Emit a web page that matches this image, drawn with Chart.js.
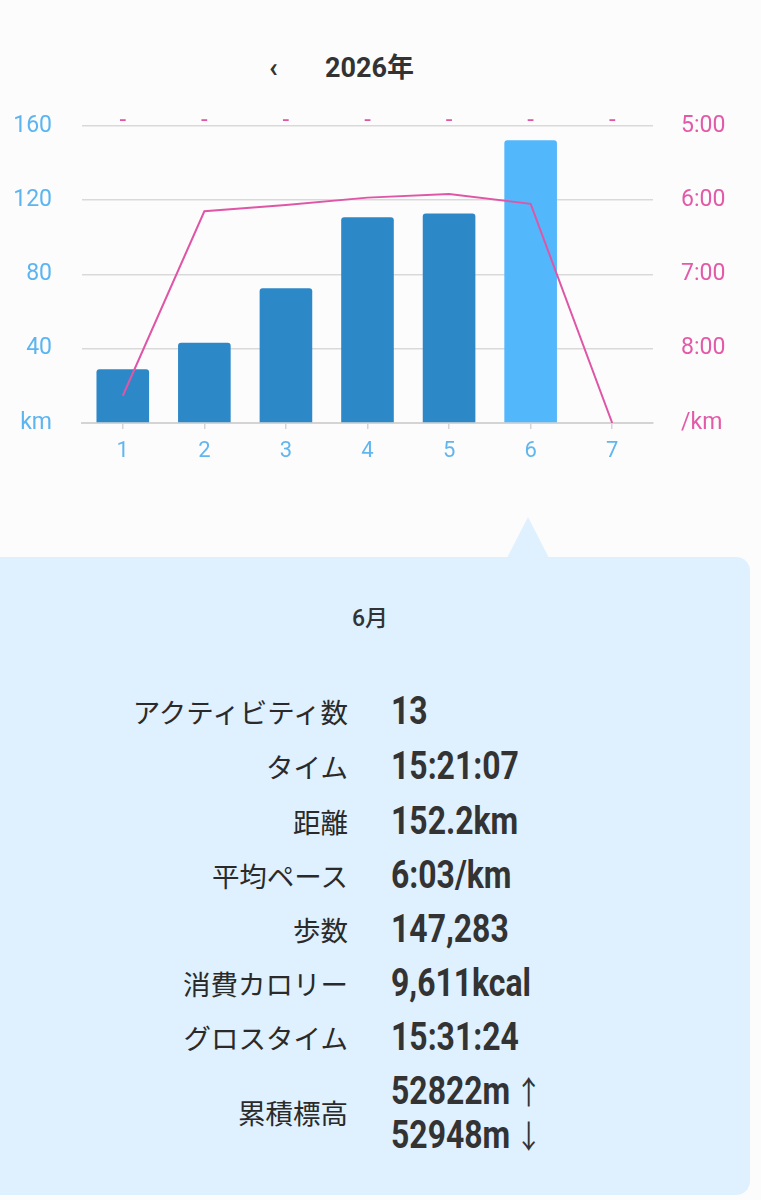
<!DOCTYPE html>
<html>
<head>
<meta charset="utf-8">
<script src="https://cdn.jsdelivr.net/npm/chart.js@4/dist/chart.umd.min.js"></script>
<style>
  html, body { margin: 0; padding: 0; }
  body { width: 761px; height: 1200px; background: #fcfcfc; position: relative; overflow: hidden;
         font-family: Roboto, "Noto Sans CJK JP", sans-serif; color: #333; }
  .head { position: absolute; top: 48px; left: 0; width: 761px; height: 40px; }
  .chev { position: absolute; left: 269px; top: 0; font-size: 28px; line-height: 40px; font-weight: 700; }
  .year { position: absolute; left: 325px; top: 0; font-size: 27px; line-height: 40px; font-weight: 700;
          font-family: Roboto, "Noto Sans CJK JP", sans-serif; }
  #wrap { position: absolute; left: 0; top: 82px; width: 761px; height: 386px; }
  .panel { position: absolute; left: -20px; top: 557px; width: 770px; height: 638px; background: #dff0fe;
           border-radius: 14px; }
  .tip { position: absolute; left: 507px; top: 517px; width: 0; height: 0;
         border-left: 21px solid transparent; border-right: 21px solid transparent; border-bottom: 41px solid #dff0fe; }
  .month { position: absolute; left: 0; width: 740px; top: 599px; text-align: center; font-size: 23px;
           font-weight: 500; font-family: Roboto, "Noto Sans CJK JP", sans-serif; }
  .lbl { position: absolute; right: 413px; font-family: "Noto Sans CJK JP", sans-serif; font-size: 27.5px;
         font-weight: 400; line-height: 36px; white-space: nowrap; color: #2a2a2a; }
  .val { position: absolute; left: 391px; font-family: Roboto, sans-serif; font-weight: 700; font-size: 38px;
         line-height: 44px; white-space: nowrap; color: #333; transform: scaleX(0.84); transform-origin: left center; }
  .val span { font-family: "Noto Sans CJK JP", sans-serif; font-weight: 400; font-size: 32px; margin-left: 6px; }
</style>
</head>
<body>
<div class="head"><span class="chev">‹</span><span class="year">2026年</span></div>
<div id="wrap"><canvas id="myChart"></canvas></div>

<div class="tip"></div>
<div class="panel"></div>
<div class="month">6月</div>
<div id="rows"></div>

<script>
// months shown on the x axis
var months = ['1', '2', '3', '4', '5', '6', '7'];
// distance per month (km)
var distance = [29.0, 43.2, 72.6, 110.7, 112.8, 152.2, 0];
// average pace per month in seconds per km (month 7 has none -> drawn at axis bottom)
var pace = [518, 369, 364, 358, 355, 363, 540];
// small marks above each month
var topMarks = ['-', '-', '-', '-', '-', '-', '-'];
var selected = 5;

// summary for the selected month
var statLabels = ['アクティビティ数', 'タイム', '距離', '平均ペース', '歩数', '消費カロリー', 'グロスタイム'];
var statValues = ['13', '15:21:07', '152.2km', '6:03/km', '147,283', '9,611kcal', '15:31:24'];
var elevUp = '52822m';
var elevDown = '52948m';

var rows = document.getElementById('rows');
var rowY = [711, 766, 821, 875, 929, 983, 1037];
for (var i = 0; i < statLabels.length; i++) {
  var l = document.createElement('div');
  l.className = 'lbl';
  l.style.top = (rowY[i] - 18) + 'px';
  l.textContent = statLabels[i];
  rows.appendChild(l);
  var v = document.createElement('div');
  v.className = 'val';
  v.style.top = (rowY[i] - 22) + 'px';
  v.textContent = statValues[i];
  rows.appendChild(v);
}
var el = document.createElement('div');
el.className = 'lbl';
el.style.top = (1112 - 18) + 'px';
el.textContent = '累積標高';
rows.appendChild(el);
var up = document.createElement('div');
up.className = 'val';
up.style.top = (1090 - 22) + 'px';
up.innerHTML = elevUp + '<span>↑</span>';
rows.appendChild(up);
var down = document.createElement('div');
down.className = 'val';
down.style.top = (1134 - 22) + 'px';
down.innerHTML = elevDown + '<span>↓</span>';
rows.appendChild(down);

function fmtPace(s) {
  var m = Math.floor(s / 60);
  var sec = s % 60;
  return m + ':' + (sec < 10 ? '0' : '') + sec;
}

var barColors = months.map(function (m, i) { return i === selected ? '#52b7fb' : '#2d88c8'; });

var ctx = document.getElementById('myChart');
var myChart = new Chart(ctx, {
  type: 'bar',
  data: {
    labels: months,
    datasets: [
      {
        type: 'line',
        label: 'pace',
        data: pace,
        yAxisID: 'yPace',
        borderColor: '#e056a7',
        borderWidth: 2,
        pointRadius: 0,
        tension: 0,
        fill: false,
        order: 0
      },
      {
        label: 'distance',
        data: distance,
        yAxisID: 'y',
        backgroundColor: barColors,
        borderRadius: 3,
        borderSkipped: 'bottom',
        categoryPercentage: 1,
        barPercentage: 0.645,
        order: 1
      }
    ]
  },
  options: {
    responsive: true,
    maintainAspectRatio: false,
    animation: false,
    layout: { padding: 0 },
    plugins: { legend: { display: false }, tooltip: { enabled: false } },
    scales: {
      xTop: {
        type: 'category',
        labels: topMarks,
        position: 'top',
        grid: { display: false, drawTicks: false },
        border: { display: false },
        ticks: { color: '#e056a7', padding: -7, font: { family: 'Roboto', size: 24, lineHeight: 1 }, maxRotation: 0 },
        afterFit: function (s) { s.height = 43; }
      },
      x: {
        grid: { offset: false, drawOnChartArea: false, drawTicks: true, tickLength: 6, color: '#d4d4d4', lineWidth: 1.5 },
        border: { display: true, color: '#d4d4d4', width: 2 },
        ticks: { color: '#62b6ef', padding: 9, font: { family: 'Roboto', size: 22 }, maxRotation: 0 },
        afterFit: function (s) { s.height = 45; }
      },
      y: {
        position: 'left',
        min: 0,
        max: 160,
        ticks: {
          stepSize: 40,
          color: '#5cb5f0',
          padding: 30,
          font: { family: 'Roboto', size: 23 },
          callback: function (v) { return v === 0 ? 'km' : v; }
        },
        grid: { color: '#d9d9d9', lineWidth: 1.5, drawTicks: false },
        border: { display: false },
        afterFit: function (s) { s.width = 82; }
      },
      yPace: {
        position: 'right',
        min: 300,
        max: 540,
        reverse: true,
        ticks: {
          stepSize: 60,
          color: '#e35aa8',
          padding: 28,
          font: { family: 'Roboto', size: 23 },
          callback: function (v) { return v === 540 ? '/km' : fmtPace(v); }
        },
        grid: { drawOnChartArea: false, drawTicks: false },
        border: { display: false },
        afterFit: function (s) { s.width = 108; }
      }
    }
  }
});
</script>
</body>
</html>
